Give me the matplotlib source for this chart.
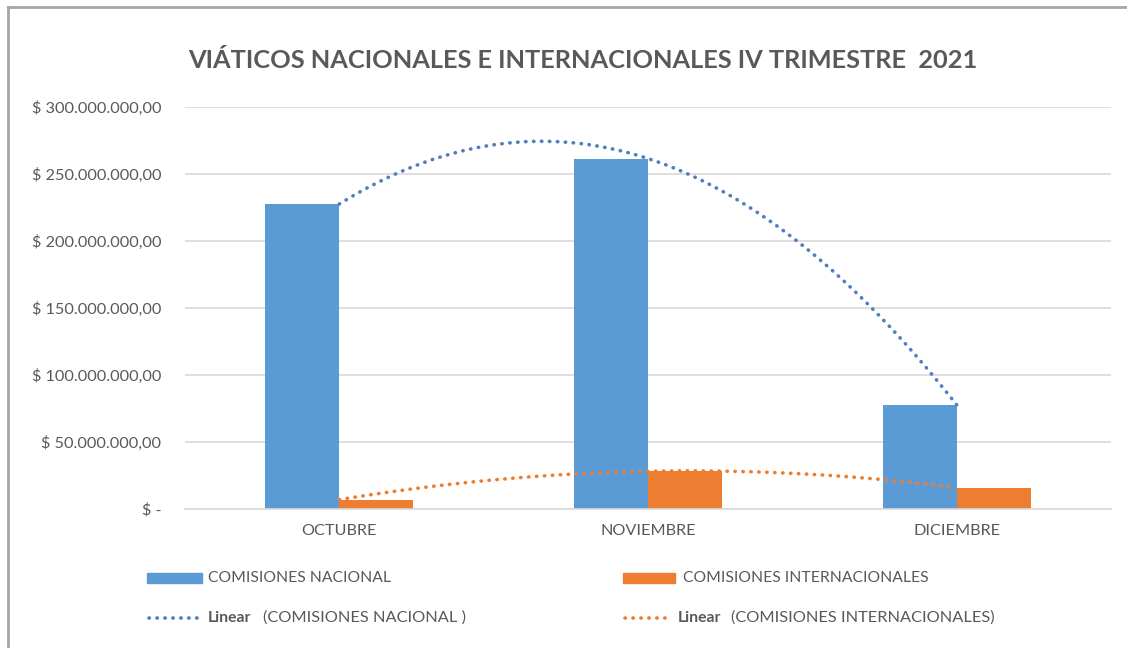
import matplotlib.pyplot as plt
import numpy as np
from matplotlib.lines import Line2D
from matplotlib.patches import Rectangle

plt.rcParams['font.family'] = ['Lato', 'DejaVu Sans']

# Data
meses = ['OCTUBRE', 'NOVIEMBRE', 'DICIEMBRE']
nacional = [227.5e6, 261.5e6, 77.5e6]
internacional = [6.7e6, 27.9e6, 15.7e6]
yticks = [0, 50e6, 100e6, 150e6, 200e6, 250e6, 300e6]

c_nac = '#5b9bd5'
c_int = '#ed7d31'
c_trend = '#4f7fbf'
c_txt = '#595959'
c_grid = '#d9d9d9'
dots = (0, (0.1, 2.1))


def peso(v):
    if v == 0:
        return '$ -'
    s = f'{v:,.2f}'
    s = s.replace(',', 'X').replace('.', ',').replace('X', '.')
    return '$ ' + s


fig = plt.figure(figsize=(11.27, 6.48), dpi=100)
ax = fig.add_axes([0.1641, 0.2151, 0.9858 - 0.1641, 0.8349 - 0.2151])

x = np.arange(len(meses))
w = 0.24
ax.bar(x - w / 2, nacional, w, color=c_nac, zorder=2)
ax.bar(x + w / 2, internacional, w, color=c_int, zorder=2)

# trend lines (Excel-style, order 2 through the three points)
xs = np.linspace(0, 2, 200)
p_nac = np.polyfit(x, nacional, 2)
p_int = np.polyfit(x, internacional, 2)
ax.plot(xs, np.polyval(p_nac, xs), color=c_trend, lw=2.6, ls=dots,
        dash_capstyle='round', zorder=3)
ax.plot(xs, np.polyval(p_int, xs), color=c_int, lw=2.6, ls=dots,
        dash_capstyle='round', zorder=3)

ax.set_xlim(-0.5, 2.5)
ax.set_ylim(0, 300e6)
ax.set_yticks(yticks)
ax.set_yticklabels([peso(v) for v in yticks])
ax.set_xticks(x)
ax.set_xticklabels(meses)
ax.tick_params(axis='both', length=0, labelsize=11.7, colors=c_txt)
ax.tick_params(axis='y', pad=17)
ax.tick_params(axis='x', pad=11)
ax.grid(axis='y', color=c_grid, lw=1.2, zorder=0)
for s in ['top', 'right', 'left']:
    ax.spines[s].set_visible(False)
ax.spines['bottom'].set_color(c_grid)
ax.spines['bottom'].set_linewidth(1.2)

fig.text(0.517, 0.906, 'VIÁTICOS NACIONALES E INTERNACIONALES IV TRIMESTRE  2021',
         ha='center', va='center', fontsize=18.3, fontweight='bold', color=c_txt)

# legend drawn by hand
W, H = 1127, 648


def fx(px):
    return px / W


def fy(py):
    return 1 - py / H


fs1 = 11.3
fs2 = 11.8
fig.add_artist(Rectangle((fx(147), fy(583)), fx(55), 10 / H, color=c_nac,
                         transform=fig.transFigure))
fig.text(fx(208), fy(578), 'COMISIONES NACIONAL', fontsize=fs1, color=c_txt, va='center')
fig.add_artist(Rectangle((fx(623), fy(583)), fx(52), 10 / H, color=c_int,
                         transform=fig.transFigure))
fig.text(fx(683), fy(578), 'COMISIONES INTERNACIONALES', fontsize=fs1, color=c_txt, va='center')

fig.add_artist(Line2D([fx(149), fx(200)], [fy(618), fy(618)], color=c_trend, lw=2.6,
                      ls=dots, dash_capstyle='round', transform=fig.transFigure))
fig.text(fx(208), fy(618), 'Linear', fontsize=fs2 - 0.5, fontweight='bold', color=c_txt, va='center')
fig.text(fx(263), fy(618), '(COMISIONES NACIONAL )', fontsize=fs2, color=c_txt, va='center')
fig.add_artist(Line2D([fx(625), fx(671)], [fy(618), fy(618)], color=c_int, lw=2.6,
                      ls=dots, dash_capstyle='round', transform=fig.transFigure))
fig.text(fx(678), fy(618), 'Linear', fontsize=fs2 - 0.5, fontweight='bold', color=c_txt, va='center')
fig.text(fx(731), fy(618), '(COMISIONES INTERNACIONALES)', fontsize=fs2, color=c_txt, va='center')

# chart frame (left and top edges visible)
fig.add_artist(Line2D([fx(8), fx(8)], [0, fy(7)], color='#a6a6a6', lw=2,
                      transform=fig.transFigure))
fig.add_artist(Line2D([fx(8), 1], [fy(7), fy(7)], color='#a6a6a6', lw=2,
                      transform=fig.transFigure))

fig.savefig('out.png', dpi=100)
